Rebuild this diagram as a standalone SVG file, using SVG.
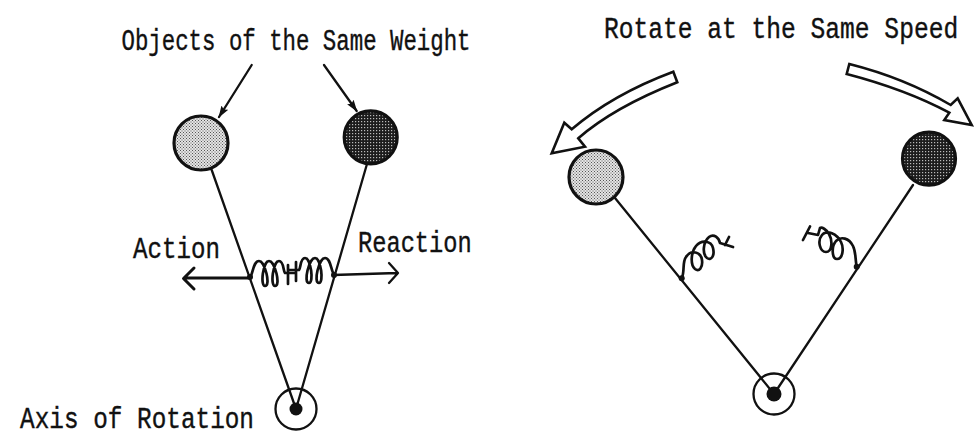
<svg xmlns="http://www.w3.org/2000/svg" width="980" height="437" viewBox="0 0 980 437">
<style>
text{font-family:"Liberation Mono","DejaVu Sans Mono",monospace;font-size:30px;fill:#111;stroke:#111;stroke-width:.4}
.l{fill:none;stroke:#111;stroke-width:2.300;stroke-linecap:round;stroke-linejoin:round}
.s{stroke-width:2.700}
.t{stroke-width:3}
.ball{stroke:#111;stroke-width:3.200}
.ax{fill:none;stroke:#111;stroke-width:2.300}
.blk{fill:#fff;stroke:#111;stroke-width:2.600;stroke-linejoin:miter}
.dot{fill:#111}
</style>
<defs>
<pattern id="lg" width="3" height="3" patternUnits="userSpaceOnUse"><rect width="3" height="3" fill="#e4e4e4"/><rect width="1" height="1" fill="#555"/><rect x="1.500" y="1.500" width="1" height="1" fill="#555"/></pattern>
<pattern id="dk" width="3" height="3" patternUnits="userSpaceOnUse"><rect width="3" height="3" fill="#1c1c1c"/><rect x="1" y="1" width="1.200" height="1.200" fill="#bbb"/></pattern>
<marker id="ah" viewBox="0 0 12 8" refX="11" refY="4" markerWidth="12" markerHeight="8" markerUnits="userSpaceOnUse" orient="auto"><path d="M0,0L12,4L0,8L2,4Z" fill="#111"/></marker>
<path id="half" d="M0,0C3,-2 3,-16 9,-16C15,-16 21,9 15,9C10,9 13,-16 19,-16C25,-16 31,9 25,9C20,9 23,-16 29,-16C34,-16 33,-6 35,-4H45M38,-12V7"/>
</defs>
<g id="connectors">
<path class="l" d="M251.700,65L219,117" marker-end="url(#ah)"/>
<path class="l" d="M324,65L356.700,111" marker-end="url(#ah)"/>
<path class="l" d="M211.700,170L296,409M366.700,165L296,409"/>
<path class="l t" d="M250,278H184M194,268L183.500,278.500L194,289"/>
<path class="l" d="M333,275L397,273M389,263L398,273L389,283"/>
<path class="l" d="M615,198L774,394M913,185L774,394"/>
</g>
<g id="spring-left">
<use href="#half" class="l s" transform="translate(250,277)"/>
<use href="#half" class="l s" transform="translate(334,274) scale(-1,1)"/>
<circle class="dot" cx="250" cy="277" r="3"/>
<circle class="dot" cx="334" cy="275" r="3"/>
</g>
<g id="spring-right">
<path class="l s" d="M681.700,278.300C685,272 682,262 686,257C691,249 701,252 702,260C703,268 699,272 695,269C690,265 691,252 696,246C701,240 711,240 713,248C715,256 711,261 707,258C702,254 703,242 709,237C714,233 719,238 720,243L733,247M729,237L725,245"/>
<path class="l s" d="M856.700,266.700C855,258 856,252 853,246C849,238 841,236 836,241C831,247 832,259 837,259C843,259 844,248 841,242C837,234 827,229 822,235C817,241 820,252 826,252C832,252 833,241 829,234C826,229 822,227 820,228L818,235L808,233M810,226.500L803,240"/>
<circle class="dot" cx="681.700" cy="278.300" r="3"/>
<circle class="dot" cx="856.700" cy="266.700" r="3"/>
</g>
<g id="ball-light-left"><circle class="ball" cx="201" cy="143" r="27" fill="url(#lg)"/></g>
<g id="ball-dark-left"><circle class="ball" cx="370.700" cy="137.300" r="26.500" fill="url(#dk)"/></g>
<g id="axis-left"><circle class="ax" cx="296" cy="409" r="20.500"/><circle class="dot" cx="296" cy="409" r="6.500"/></g>
<g id="ball-light-right"><circle class="ball" cx="596" cy="177" r="27" fill="url(#lg)"/></g>
<g id="ball-dark-right"><circle class="ball" cx="929" cy="158.700" r="26.500" fill="url(#dk)"/></g>
<g id="axis-right"><circle class="ax" cx="774" cy="394" r="20.500"/><circle class="dot" cx="774" cy="394" r="7.500"/></g>
<g id="arrow-left"><path class="blk" d="M673.300,71.700L677.300,82.300C640,97 605,115 578.300,138.300L585,146.700L551.700,153.300L564.300,122.700L571.700,129.300C600,105 635,86 673.300,71.700Z"/></g>
<g id="arrow-right"><path class="blk" d="M849.300,64L846.700,74C885,84 920,97 949.300,112.700L944.300,120L971.700,125L957.700,98.300L950.700,105C920,87 885,73 849.300,64Z"/></g>
<g id="labels">
<text transform="translate(121.500 50) scale(.746 1)">Objects of the Same Weight</text>
<text transform="translate(604 38) scale(.82 1)">Rotate at the Same Speed</text>
<text transform="translate(133 258) scale(.805 1)">Action</text>
<text transform="translate(358 252) scale(.79 1)">Reaction</text>
<text transform="translate(20 428) scale(.8125 1)">Axis of Rotation</text>
</g>
</svg>
